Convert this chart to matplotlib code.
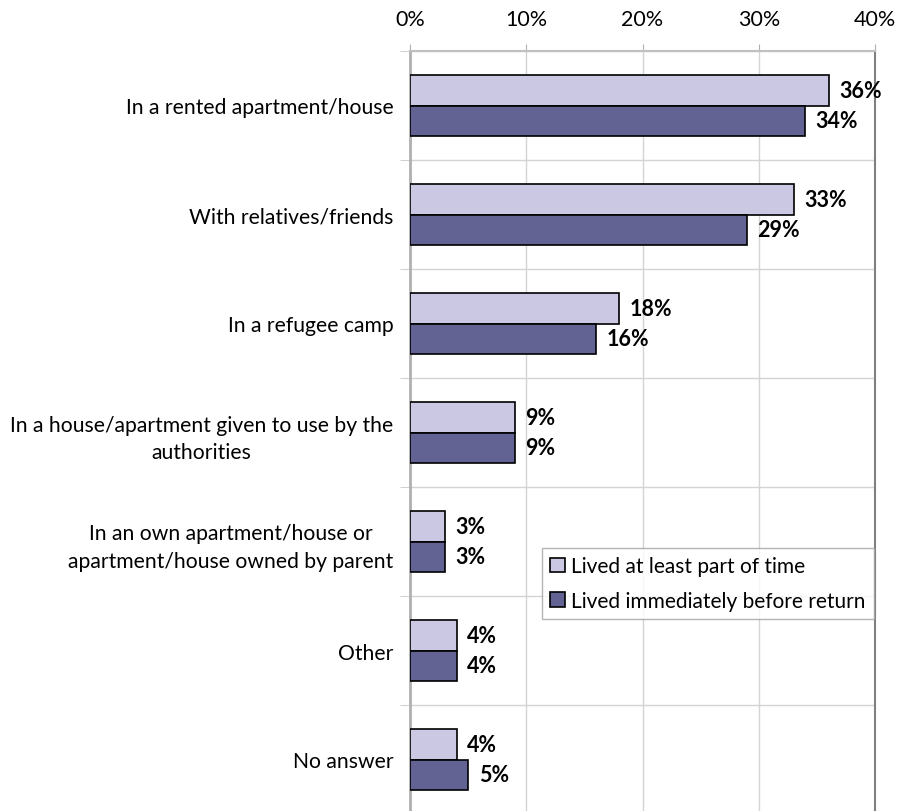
import matplotlib.pyplot as plt
import numpy as np

categories = [
    "In a rented apartment/house",
    "With relatives/friends",
    "In a refugee camp",
    "In a house/apartment given to use by the\nauthorities",
    "In an own apartment/house or\napartment/house owned by parent",
    "Other",
    "No answer",
]
part_of_time = [36, 33, 18, 9, 3, 4, 4]
before_return = [34, 29, 16, 9, 3, 4, 5]
series_names = ["Lived at least part of time", "Lived immediately before return"]

plt.rcParams['font.family'] = ['Lato', 'DejaVu Sans']

fig = plt.figure(figsize=(9.07, 8.12), dpi=100)
ax = fig.add_axes([410 / 907, -3 / 812, 465 / 907, 763 / 812])

y = np.arange(len(categories))
h = 0.28
light = "#cbc8e4"
dark = "#626293"

b1 = ax.barh(y - h / 2, part_of_time, height=h, color=light, edgecolor="black",
             linewidth=1.2, label=series_names[0], zorder=3)
b2 = ax.barh(y + h / 2, before_return, height=h, color=dark, edgecolor="black",
             linewidth=1.2, label=series_names[1], zorder=3)

for bars, vals in [(b1, part_of_time), (b2, before_return)]:
    for bar, v in zip(bars, vals):
        ax.text(v + 0.9, bar.get_y() + bar.get_height() / 2, f"{v}%",
                va="center", ha="left", fontsize=15.5, fontweight="bold")

ax.set_xlim(0, 40)
ax.set_ylim(len(categories) - 0.5, -0.5)
ax.xaxis.tick_top()
ax.set_xticks([0, 10, 20, 30, 40])
ax.set_xticklabels(["0%", "10%", "20%", "30%", "40%"], fontsize=15.5)
ax.tick_params(axis="x", length=5, color="#b0b0b0", pad=11)

ax.set_yticks(y)
ax.set_yticklabels(categories, fontsize=15.2, ha="right")
ax.set_yticks(np.arange(len(categories) + 1) - 0.5, minor=True)
ax.tick_params(axis="y", which="major", length=0, pad=12)
ax.tick_params(axis="y", which="minor", length=7, color="#c8c8c8")
for lbl in ax.get_yticklabels():
    lbl.set_multialignment("center")
    lbl.set_linespacing(1.45)

ax.grid(axis="x", color="#d4d4d4", linewidth=1, zorder=0)
ax.grid(axis="y", which="minor", color="#d4d4d4", linewidth=1, zorder=0)

ax.spines["left"].set_color("#b0b0b0")
ax.spines["left"].set_linewidth(2)
ax.spines["top"].set_color("#c0c0c0")
ax.spines["top"].set_linewidth(1.5)
ax.spines["right"].set_color("#808080")
ax.spines["right"].set_linewidth(1.5)
ax.spines["bottom"].set_visible(False)

leg = ax.legend(loc="upper left", bbox_to_anchor=(132 / 465, 1 - (549 - 52) / 763),
                fontsize=15, frameon=True, fancybox=False, handlelength=0.7,
                handleheight=0.7, handletextpad=0.3, borderpad=0.4,
                labelspacing=0.7, borderaxespad=0)
leg.get_frame().set_edgecolor("#a0a0a0")
leg.get_frame().set_linewidth(1)

fig.savefig("out.png", dpi=100)
